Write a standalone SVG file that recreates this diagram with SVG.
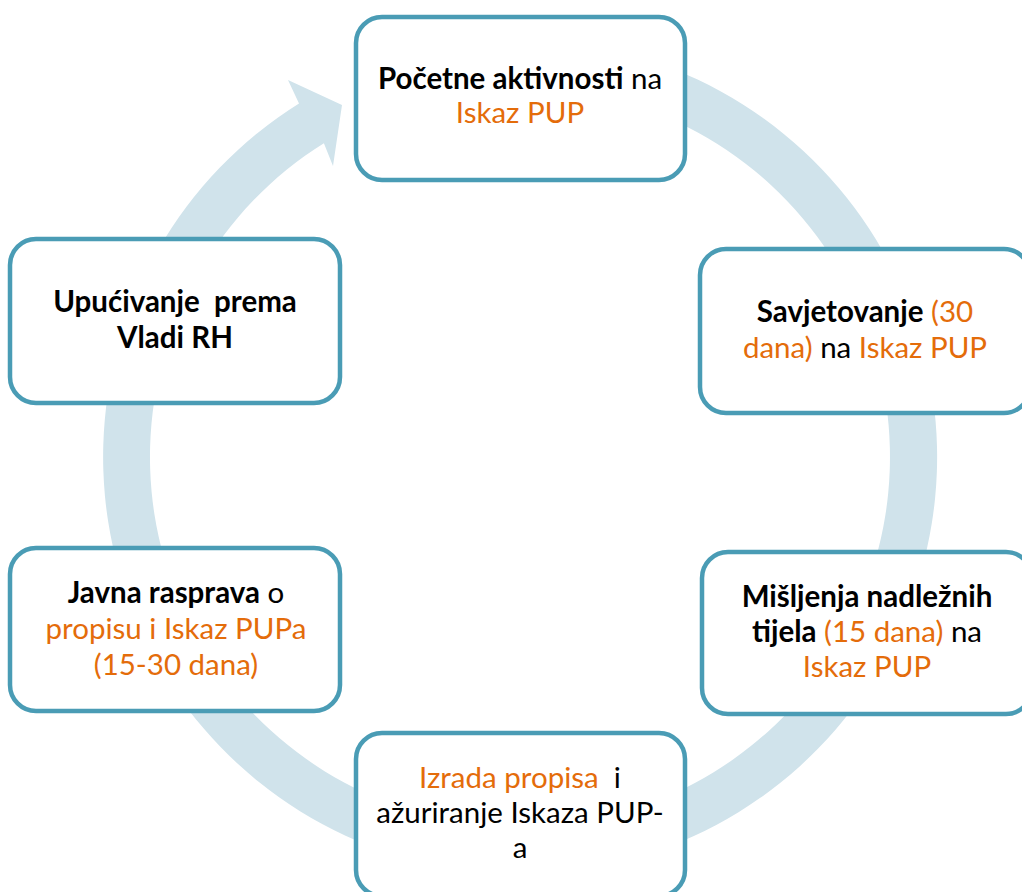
<svg xmlns="http://www.w3.org/2000/svg" width="1022" height="892" viewBox="0 0 1022 892">
<style>
.box{fill:#ffffff;stroke:#4a9cb5;stroke-width:4.5}
.t{font-family:Lato,"Liberation Sans",sans-serif;font-size:29.5px;fill:#000000;text-anchor:middle}
.b{font-weight:bold}
.o{fill:#e46c0a}
.ring{fill:#d0e3eb}
</style>
<rect width="1022" height="892" fill="#ffffff"/>
<g id="connectors">
<path class="ring" d="M447.6 46.3 A417 417 0 1 1 299.0 103.4 L288 80 L342 105 L333 166 L323.9 143.2 A370 370 0 1 0 455.7 92.6 Z"/>
</g>
<g id="node-pocetne">
<rect class="box" x="356" y="17" width="329" height="163" rx="26"/>
<text class="t" x="520" y="89"><tspan class="b">Početne aktivnosti</tspan> na</text>
<text class="t o" x="520" y="123">Iskaz PUP</text>
</g>
<g id="node-savjetovanje">
<rect class="box" x="700" y="249" width="330" height="164" rx="26"/>
<text class="t" x="865" y="322"><tspan class="b">Savjetovanje</tspan><tspan class="o"> (30</tspan></text>
<text class="t" x="865" y="358"><tspan class="o">dana)</tspan> na <tspan class="o">Iskaz PUP</tspan></text>
</g>
<g id="node-misljenja">
<rect class="box" x="702" y="552" width="330" height="162" rx="26"/>
<text class="t b" x="867" y="607">Mišljenja nadležnih</text>
<text class="t" x="867" y="642"><tspan class="b">tijela</tspan><tspan class="o"> (15 dana)</tspan> na</text>
<text class="t o" x="867" y="677">Iskaz PUP</text>
</g>
<g id="node-izrada">
<rect class="box" x="356" y="733" width="329" height="163" rx="26"/>
<text class="t" x="520" y="788" xml:space="preserve"><tspan class="o">Izrada propisa</tspan>  i</text>
<text class="t" x="520" y="823">ažuriranje Iskaza PUP-</text>
<text class="t" x="520" y="858">a</text>
</g>
<g id="node-javna">
<rect class="box" x="10" y="548" width="330" height="163" rx="26"/>
<text class="t" x="176" y="603"><tspan class="b">Javna rasprava</tspan> o</text>
<text class="t o" x="176" y="639">propisu i Iskaz PUPa</text>
<text class="t o" x="176" y="675">(15-30 dana)</text>
</g>
<g id="node-upucivanje">
<rect class="box" x="10" y="239" width="330" height="164" rx="26"/>
<text class="t b" x="175" y="312" xml:space="preserve">Upućivanje  prema</text>
<text class="t b" x="175" y="348">Vladi RH</text>
</g>
</svg>
